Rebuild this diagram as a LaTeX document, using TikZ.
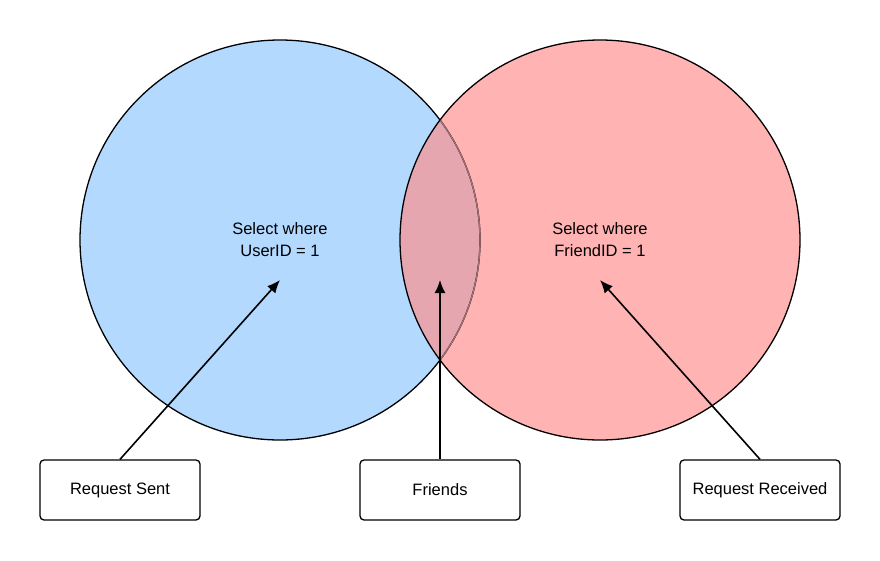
\documentclass[tikz,border=0pt]{standalone}
\usepackage{fontspec}
\setmainfont{Liberation Sans}
\usetikzlibrary{arrows.meta}
\begin{document}
\begin{tikzpicture}[x=1pt,y=-1pt,
  lbl/.style={draw=black,line width=1.3pt,rounded corners=4pt,minimum width=160pt,minimum height=60pt,fill=white,font=\fontsize{16.5}{22}\selectfont},
  arr/.style={-{Latex[length=13pt,width=11pt]},line width=1.6pt}]
\useasboundingbox (0,0) rectangle (880,560);
\fill[white] (0,0) rectangle (880,560);
\fill[fill={rgb,255:red,179;green,217;blue,255}] (280,240) circle (200);
\fill[fill={rgb,255:red,255;green,179;blue,179}] (600,240) circle (200);
\begin{scope}
\clip (280,240) circle (200);
\fill[fill={rgb,255:red,229;green,166;blue,176}] (600,240) circle (200);
\end{scope}
\draw[line width=1.3pt] (600,240) circle (200);
\draw[line width=1.3pt] (280,240) circle (200);
\begin{scope}
\clip (600,240) circle (199.3);
\draw[line width=1.3pt,draw={rgb,255:red,160;green,110;blue,115}] (280,240) circle (200);
\end{scope}
\node[font=\fontsize{16.5}{22}\selectfont,align=center] (ltxt) at (280,240) {Select where\\UserID = 1};
\node[font=\fontsize{16.5}{22}\selectfont,align=center] (rtxt) at (600,240) {Select where\\FriendID = 1};
\node[lbl] (rs) at (120,490) {Request Sent};
\node[lbl] (fr) at (440,490) {Friends};
\node[lbl] (rr) at (760,490) {Request Received};
\coordinate (la) at (280,280);
\coordinate (ma) at (440,280);
\coordinate (ra) at (600,280);
\draw[arr] (rs.north) -- (la);
\draw[arr] (fr.north) -- (ma);
\draw[arr] (rr.north) -- (ra);
\end{tikzpicture}
\end{document}
